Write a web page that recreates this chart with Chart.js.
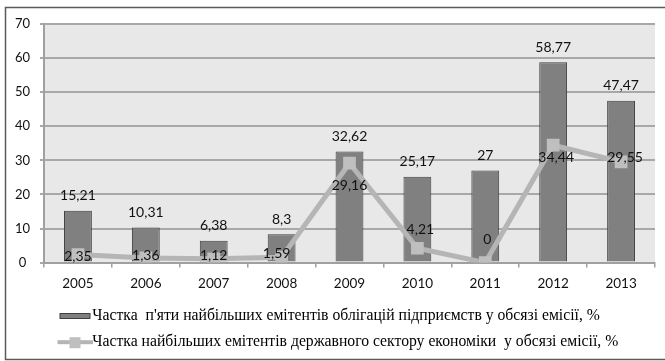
<!DOCTYPE html>
<html><head><meta charset="utf-8">
<script src="https://cdn.jsdelivr.net/npm/chart.js@4.4.1/dist/chart.umd.min.js"></script>
<style>html,body{margin:0;padding:0;background:#fff}#wrap{width:665px;height:361px;position:relative}canvas{display:block}</style>
</head><body><div id="wrap"><canvas id="c" width="665" height="361"></canvas></div>
<script>
const categories = ['2005','2006','2007','2008','2009','2010','2011','2012','2013'];
const corporateShare = [15.21, 10.31, 6.38, 8.3, 32.62, 25.17, 27, 58.77, 47.47];
const stateShare = [2.35, 1.36, 1.12, 1.59, 29.16, 4.21, 0, 34.44, 29.55];
const yTicks = [0, 10, 20, 30, 40, 50, 60, 70];
const seriesNames = [
  "Частка  п'яти найбільших емітентів облігацій підприємств у обсязі емісії, %",
  "Частка найбільших емітентів державного сектору економіки  у обсязі емісії, %"
];

const fmt = v => String(v).replace('.', ',');

// legend marker images
function makeMarker(kind) {
  const c = document.createElement('canvas');
  c.width = 90; c.height = 16;
  const g = c.getContext('2d');
  if (kind === 'bar') {
    g.fillStyle = '#808080'; g.fillRect(57, 5, 31, 6);
    g.strokeStyle = '#404040'; g.lineWidth = 1; g.strokeRect(57.5, 5.5, 30, 5);
  } else {
    g.strokeStyle = '#b5b5b5'; g.lineWidth = 4;
    g.beginPath(); g.moveTo(55, 8); g.lineTo(90, 8); g.stroke();
    g.fillStyle = '#bfbfbf'; g.fillRect(67, 3, 11, 11);
  }
  return c;
}
const markers = [makeMarker('bar'), makeMarker('line')];

const framePlugin = {
  id: 'frame',
  beforeDraw(chart) {
    const ctx = chart.ctx, a = chart.chartArea;
    ctx.save();
    ctx.fillStyle = '#fff'; ctx.fillRect(0, 0, chart.width, chart.height);
    ctx.fillStyle = '#e8e8e8'; ctx.fillRect(a.left, a.top, a.right - a.left, a.bottom - a.top);
    ctx.strokeStyle = '#5a5a5a'; ctx.lineWidth = 1.5;
    ctx.beginPath();
    ctx.moveTo(chart.width, 7.5); ctx.lineTo(5.5, 7.5); ctx.lineTo(5.5, 359.5); ctx.lineTo(chart.width, 359.5);
    ctx.stroke();
    ctx.restore();
  }
};

const labelPlugin = {
  id: 'valueLabels',
  afterDatasetsDraw(chart, args, opts) {
    const ctx = chart.ctx;
    ctx.save();
    ctx.font = '14px Lato';
    ctx.fillStyle = '#111';
    ctx.textAlign = 'center';
    ctx.textBaseline = 'middle';
    const barMeta = chart.getDatasetMeta(0);
    barMeta.data.forEach((el, i) => {
      ctx.fillText(fmt(corporateShare[i]), el.x, el.y - 15);
    });
    const lineMeta = chart.getDatasetMeta(1);
    lineMeta.data.forEach((el, i) => {
      const o = opts.lineShift[i];
      ctx.fillText(fmt(stateShare[i]), el.x + o[0], el.y + o[1]);
    });
    ctx.restore();
  }
};

new Chart(document.getElementById('c'), {
  type: 'bar',
  data: {
    labels: categories,
    datasets: [
      {
        label: seriesNames[0],
        data: corporateShare,
        backgroundColor: '#808080',
        borderColor: '#3f3f3f',
        borderWidth: 1,
        barPercentage: 0.41,
        categoryPercentage: 1,
        order: 1
      },
      {
        type: 'line',
        label: seriesNames[1],
        data: stateShare,
        borderColor: '#b5b5b5',
        borderWidth: 5,
        pointStyle: 'rect',
        pointRadius: 9,
        pointBackgroundColor: '#bfbfbf',
        pointBorderWidth: 0,
        tension: 0,
        order: -1
      }
    ]
  },
  options: {
    responsive: false,
    devicePixelRatio: 1,
    animation: false,
    layout: { padding: { top: 24, right: 10, bottom: 1, left: 0 } },
    plugins: {
      tooltip: { enabled: false },
      valueLabels: {
        lineShift: [[0,2],[0,-2],[0,-3],[-5,-4],[0,22],[3,-19],[2,-23],[3,12],[4,-4]]
      },
      legend: {
        position: 'bottom',
        align: 'start',
        labels: {
          usePointStyle: true,
          pointStyleWidth: 74,
          padding: 10.5,
          color: '#111',
          font: { family: "'Liberation Serif', 'Times New Roman', serif", size: 15.7 },
          generateLabels: () => seriesNames.map((t, i) => ({
            text: t, pointStyle: markers[i], fillStyle: 'rgba(0,0,0,0)',
            strokeStyle: 'rgba(0,0,0,0)', lineWidth: 0, hidden: false, datasetIndex: i
          }))
        }
      }
    },
    scales: {
      x: {
        offset: true,
        grid: { offset: true, drawOnChartArea: false, drawTicks: true, tickLength: 5, color: '#a0a0a0', lineWidth: 1.5 },
        border: { color: '#a0a0a0', width: 2 },
        ticks: { font: { family: 'Lato', size: 13.5 }, color: '#111', padding: 8 },
        afterFit: s => { s.height = 35; }
      },
      y: {
        min: 0, max: 70,
        afterBuildTicks: s => { s.ticks = yTicks.map(v => ({ value: v })); },
        grid: { color: '#a8a8a8', lineWidth: 2, tickLength: 4 },
        border: { color: '#a0a0a0', width: 2 },
        ticks: { font: { family: 'Lato', size: 13 }, color: '#111', padding: 10, crossAlign: 'center' },
        afterFit: s => { s.width = 44; }
      }
    }
  },
  plugins: [framePlugin, labelPlugin]
});
</script>
</body></html>
